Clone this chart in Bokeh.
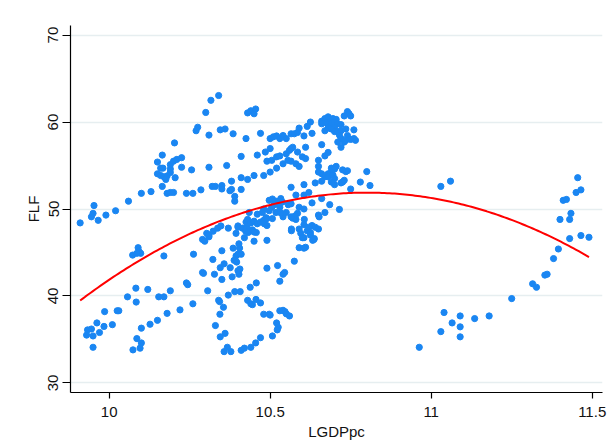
import numpy as np
from bokeh.plotting import figure
from bokeh.models import Range1d, FixedTicker, BoxAnnotation
from bokeh.embed import file_html
from bokeh.resources import INLINE

# ---- data ----
lgdppc = [
    # far left, upper band
    9.91, 9.945, 9.95, 9.953, 9.966, 9.99, 10.02, 10.06, 10.10, 10.13, 10.165, 10.18, 10.19, 10.20, 10.24, 10.26, 10.285,
    10.165, 10.15, 10.16, 10.167, 10.15, 10.16, 10.17, 10.18, 10.19, 10.19, 10.19, 10.20, 10.21, 10.225, 10.176, 10.205, 10.203, 10.225, 10.256,
    10.27, 10.275, 10.30, 10.31, 10.316, 10.34, 10.31,
    # middle upper
    10.43, 10.44, 10.45, 10.455, 10.345, 10.36, 10.385, 10.425, 10.47, 10.50, 10.51, 10.52, 10.53, 10.54, 10.55, 10.565, 10.575, 10.59,
    10.41, 10.46, 10.485, 10.50, 10.49, 10.505, 10.52, 10.53, 10.55, 10.56, 10.565, 10.57, 10.585, 10.365, 10.52, 10.54, 10.555, 10.565, 10.58, 10.59,
    10.41, 10.43, 10.45, 10.48, 10.50, 10.32, 10.33, 10.35, 10.35, 10.38, 10.375, 10.38, 10.39, 10.39, 10.41, 10.565,
    # right upper cluster
    10.74, 10.745, 10.73, 10.75, 10.67, 10.68, 10.69, 10.695, 10.705, 10.66, 10.66, 10.675, 10.685, 10.69, 10.70, 10.71, 10.70, 10.72, 10.68, 10.67,
    10.69, 10.70, 10.71, 10.72, 10.735, 10.76, 10.625, 10.615, 10.585, 10.605, 10.63, 10.74, 10.75, 10.76, 10.715, 10.72, 10.73, 10.72, 10.71, 10.66,
    10.61, 10.60, 10.61, 10.65, 10.67, 10.65, 10.68, 10.705, 10.69, 10.70, 10.69, 10.68, 10.66, 10.67, 10.65, 10.68, 10.695, 10.70, 10.735, 10.80,
    10.72, 10.725, 10.73, 10.70, 10.75, 10.78, 10.81, 10.605, 10.64, 10.58, 10.605, 10.63, 10.66, 10.59, 10.605, 10.715, 10.67, 10.65, 10.57, 10.58,
    10.605, 10.62, 10.63, 10.64, 10.615, 10.625, 10.765, 10.74, 10.735, 10.725, 10.69, 10.66, 10.62, 10.685, 10.652, 10.65, 10.625, 10.637, 10.632,
    10.605, 10.61, 10.636, 10.59, 10.595,
    # far right
    11.03, 11.06, 11.455, 11.45, 11.465, 11.41, 11.42, 11.434, 11.40, 11.43, 11.43, 11.465, 11.49, 11.395, 11.38, 11.353, 11.36, 11.315, 11.327,
    11.25, 11.18, 11.135, 11.09, 11.04, 11.065, 11.09, 11.09, 11.03, 10.963,
    # lower left
    9.93, 9.933, 9.945, 9.95, 9.962, 9.97, 9.986, 9.984, 9.95, 10.01, 10.025, 10.03, 10.057, 10.074, 10.083, 10.084, 10.086, 10.096, 10.10, 10.10,
    10.073, 10.09, 10.093, 10.098, 10.086, 10.12, 10.127, 10.15, 10.154, 10.17, 10.18, 10.19, 10.17, 10.22, 10.24, 10.244, 10.26, 10.262,
    # middle lower
    10.29, 10.297, 10.303, 10.31, 10.31, 10.323, 10.337, 10.347, 10.29, 10.293, 10.322, 10.327, 10.306, 10.33, 10.34, 10.343, 10.345, 10.35, 10.35,
    10.355, 10.344, 10.345, 10.36, 10.357, 10.367, 10.378, 10.37, 10.385, 10.40, 10.406, 10.403, 10.37, 10.39, 10.407, 10.376, 10.382, 10.394, 10.40,
    10.405, 10.388, 10.396, 10.41, 10.403, 10.42, 10.394, 10.40, 10.414, 10.428, 10.432, 10.424, 10.44, 10.41, 10.42, 10.44, 10.455, 10.43, 10.44,
    10.445, 10.456, 10.438, 10.457, 10.47, 10.47, 10.45, 10.457, 10.48, 10.497, 10.50, 10.49, 10.49, 10.507, 10.52, 10.525, 10.522, 10.523, 10.53,
    10.54, 10.545, 10.53, 10.54, 10.546, 10.55, 10.56, 10.575, 10.566, 10.59, 10.60, 10.605,
    10.357, 10.425, 10.43, 10.44, 10.45, 10.46, 10.47, 10.48, 10.49, 10.507, 10.54, 10.40,
    # band near the fit line
    10.497, 10.507, 10.518, 10.523, 10.533, 10.538, 10.53, 10.513, 10.505, 10.497, 10.48, 10.476, 10.46, 10.487, 10.518, 10.533, 10.556, 10.565,
    10.606, 10.435, 10.585, 10.577, 10.565, 10.55, 10.445, 10.482, 10.49, 10.45, 10.566,
]

flf = [
    48.4, 49.1, 49.5, 50.4, 48.7, 49.3, 49.8, 50.9, 51.8, 52.0, 52.6, 51.8, 51.9, 51.9, 51.8, 51.8, 52.2,
    56.2, 55.4, 54.7, 54.7, 54.05, 53.85, 53.7, 53.8, 54.2, 54.6, 55.1, 55.5, 55.7, 55.9, 53.4, 53.6, 57.6, 54.8, 54.5,
    59.0, 59.4, 61.1, 58.5, 62.5, 63.05, 54.8,
    61.05, 61.3, 60.95, 61.5, 59.1, 59.2, 58.65, 58.1, 58.7, 58.1, 58.3, 58.4, 58.1, 58.45, 58.1, 58.65, 58.65, 59.3,
    56.05, 56.2, 56.55, 56.95, 55.5, 55.6, 56.0, 56.1, 56.35, 56.75, 56.95, 57.1, 56.55, 55.0, 54.7, 55.2, 55.6, 55.5, 55.2, 54.9,
    53.6, 53.4, 53.85, 53.85, 54.25, 52.6, 52.6, 52.7, 52.3, 53.2, 52.1, 52.25, 51.45, 50.9, 52.25, 52.5,
    61.2, 60.95, 60.7, 60.7, 60.4, 60.6, 60.3, 60.4, 60.3, 60.1, 59.8, 59.9, 60.0, 59.8, 60.0, 59.8, 59.4, 59.7, 59.3, 59.0,
    59.2, 58.9, 58.9, 59.0, 59.2, 59.1, 60.0, 59.5, 58.8, 58.4, 58.7, 58.45, 58.0, 58.1, 58.5, 58.1, 57.7, 57.1, 57.7, 57.4,
    57.1, 56.0, 55.8, 55.6, 56.1, 54.9, 56.5, 54.9, 54.7, 54.6, 54.25, 54.05, 54.05, 53.7, 54.25, 53.7, 53.9, 53.5, 54.3, 54.3,
    53.0, 53.1, 53.3, 52.8, 52.3, 53.1, 52.7, 52.8, 53.0, 51.6, 51.6, 50.7, 51.2, 50.2, 50.0, 49.95, 49.6, 49.3, 48.95, 48.8,
    48.2, 47.9, 48.1, 47.9, 47.5, 47.3, 57.9, 54.4, 57.9, 54.5, 53.1, 53.2, 51.9, 50.5, 49.1, 47.7, 47.0, 46.6, 46.4,
    46.7, 45.6, 46.5, 47.7, 47.2,
    52.6, 53.2, 53.6, 51.9, 52.2, 51.0, 51.1, 49.5, 48.8, 48.8, 46.6, 46.95, 46.75, 45.4, 44.3, 42.4, 42.5, 41.4, 41.0,
    39.7, 37.7, 37.4, 37.7, 38.1, 36.9, 36.45, 35.3, 35.9, 34.1,
    35.5, 36.1, 36.2, 35.4, 36.9, 35.8, 38.2, 36.5, 34.1, 36.7, 38.3, 38.3, 39.9, 33.8, 40.9, 39.3, 35.1, 34.0, 34.6, 36.3,
    44.7, 45.55, 45.1, 44.9, 44.9, 40.75, 36.75, 37.2, 39.9, 39.9, 38.0, 40.6, 44.6, 38.4, 41.5, 41.3, 39.1, 44.8,
    46.5, 46.3, 47.2, 46.8, 47.0, 47.45, 47.8, 48.05, 42.7, 42.6, 44.2, 42.5, 40.6, 36.6, 39.5, 39.35, 43.25, 45.2, 41.9,
    38.7, 37.9, 35.3, 35.7, 33.6, 34.1, 33.6, 47.8, 45.5, 42.9, 43.1, 42.5, 40.1, 40.5, 40.5, 43.25, 42.2, 44.6, 44.8,
    45.5, 44.1, 43.9, 44.8, 46.0, 46.7, 47.2, 48.05, 47.8, 47.9, 47.3, 47.45, 47.5, 33.75, 34.0, 34.1, 34.6, 39.5, 39.1,
    39.0, 39.6, 41.0, 41.5, 35.2, 39.2, 46.3, 47.3, 37.9, 37.9, 37.8, 43.2, 46.4, 35.4, 36.9, 36.4, 36.1, 43.5, 41.7,
    42.5, 42.7, 38.3, 38.35, 38.2, 37.95, 37.7, 44.0, 47.5, 45.55, 46.7, 45.5,
    43.7, 48.5, 48.8, 48.4, 48.6, 48.3, 48.5, 48.7, 48.9, 48.9, 49.1, 47.9,
    51.0, 51.15, 50.9, 50.6, 51.2, 50.8, 50.2, 50.5, 50.2, 49.8, 50.0, 49.6, 49.4, 49.0, 49.6, 49.55, 50.5, 50.6,
    48.8, 49.6, 49.5, 49.2, 49.1, 49.6, 47.6, 48.3, 48.1, 47.35, 47.7,
]

x_ticks = [10, 10.5, 11, 11.5]
x_tick_labels = ["10", "10.5", "11", "11.5"]
y_ticks = [30, 40, 50, 60, 70]
y_tick_labels = ["30", "40", "50", "60", "70"]

x = np.array(lgdppc)
y = np.array(flf)

# quadratic prediction (as Stata's qfit)
coef = np.polyfit(x, y, 2)
xf = np.linspace(x.min(), x.max(), 200)
yf = np.polyval(coef, xf)

FONT = "Liberation Sans"

p = figure(
    width=610, height=448,
    output_backend="svg", toolbar_location=None,
    x_range=Range1d(9.88, 11.532), y_range=Range1d(28.9, 71.1),
    min_border_left=70, min_border_right=8, min_border_top=25, min_border_bottom=56,
)
p.border_fill_color = "white"
p.background_fill_color = "white"
p.outline_line_color = None

# faint outer graph-region frame (only its top and left edges are visible)
outer = BoxAnnotation(left=9.695, right=12.5, top=72.8, bottom=15.0,
                      fill_alpha=0, line_color="#e3ebee", line_width=1.6,
                      level="underlay")
p.add_layout(outer)

p.scatter(x, y, size=6.2, color="#1a86f2", line_color="#1a86f2")
p.line(xf, yf, line_color="#ff0000", line_width=2)

# grid
p.xgrid.grid_line_color = None
p.ygrid.grid_line_color = "#e6eef0"
p.ygrid.grid_line_width = 1.5

# axes
xa = p.xaxis[0]
ya = p.yaxis[0]
xa.ticker = FixedTicker(ticks=x_ticks)
ya.ticker = FixedTicker(ticks=y_ticks)
xa.major_label_overrides = {t: l for t, l in zip(x_ticks, x_tick_labels)}
ya.major_label_overrides = {t: l for t, l in zip(y_ticks, y_tick_labels)}
for ax in (xa, ya):
    ax.minor_tick_line_color = None
    ax.axis_line_color = "black"
    ax.axis_line_width = 1.2
    ax.major_tick_line_color = "black"
    ax.major_tick_line_width = 1.2
    ax.major_tick_in = 0
    ax.major_label_text_font = FONT
    ax.major_label_text_font_size = "15px"
    ax.major_label_text_color = "#111111"
    ax.axis_label_text_font = FONT
    ax.axis_label_text_font_size = "15px"
    ax.axis_label_text_font_style = "normal"
    ax.axis_label_text_color = "#111111"

xa.axis_label = "LGDPpc"
xa.major_tick_out = 6
xa.major_label_standoff = 8
xa.axis_label_standoff = 3

ya.axis_label = "FLF"
ya.major_tick_out = 8
ya.major_label_orientation = "vertical"
ya.major_label_standoff = 4
ya.axis_label_standoff = 4

open("out.html", "w").write(file_html(p, INLINE))
